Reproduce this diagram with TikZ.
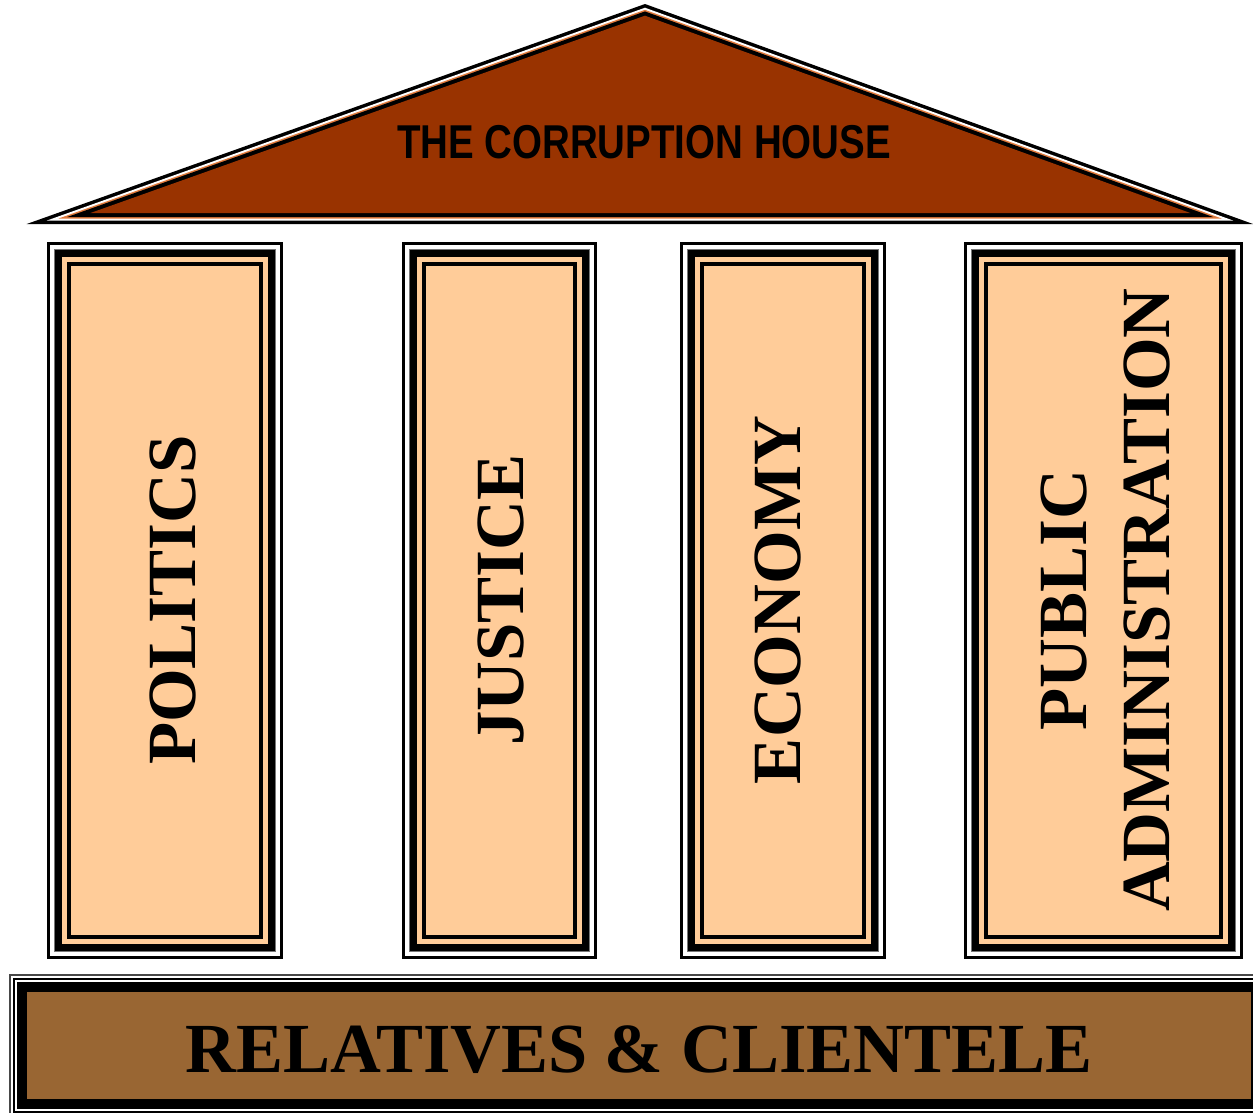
\documentclass[tikz,border=0pt]{standalone}
\usepackage{fontspec}
\setmainfont{Liberation Serif}
\newfontfamily\titlefont{Liberation Sans}
\usetikzlibrary{calc}
\definecolor{roof}{HTML}{993300}
\definecolor{peach}{HTML}{FFCC99}
\definecolor{found}{HTML}{996633}
\definecolor{roofline}{HTML}{E07A3C}
\definecolor{hair}{HTML}{777777}
\newcommand\pillarframe[2]{%
  \fill[black] (#1) rectangle (#2);
  \fill[white] ($(#1)+(3,3)$) rectangle ($(#2)-(3,3)$);
  \fill[hair] ($(#1)+(7,7)$) rectangle ($(#2)-(7,7)$);
  \fill[black] ($(#1)+(8,8)$) rectangle ($(#2)-(8,8)$);
  \fill[peach] ($(#1)+(15,15)$) rectangle ($(#2)-(15,15)$);
  \fill[black] ($(#1)+(20,20)$) rectangle ($(#2)-(20,20)$);
  \fill[peach] ($(#1)+(24,24)$) rectangle ($(#2)-(24,24)$);
}
\newcommand\roofband[2]{%
  \pgfmathsetmacro\kk{1-#1/106.67}
  \fill[#2] ($(I)!\kk!(A)$) -- ($(I)!\kk!(B)$) -- ($(I)!\kk!(C)$) -- cycle;
}
\tikzset{
  pillartext/.style={font=\bfseries\fontsize{69}{83}\selectfont, rotate=90, anchor=base, align=center, inner sep=0pt},
}
\begin{document}
\begin{tikzpicture}[x=1pt,y=-1pt]
\useasboundingbox (0,0) rectangle (1253,1112);
\clip (0,0) rectangle (1253,1112);
% roof
\coordinate (A) at (26.7,224);
\coordinate (B) at (645,4);
\coordinate (C) at (1253,224);
\coordinate (I) at (644.70,117.33);
\roofband{0}{black}
\roofband{3.5}{white}
\roofband{5.5}{roofline}
\roofband{7}{black}
\roofband{11}{roof}
\node[font=\titlefont\bfseries\fontsize{47.5}{50}\selectfont, xscale=0.81, anchor=base, inner sep=0pt] (title) at (644,158) {THE CORRUPTION HOUSE};
% pillars
\coordinate (p1a) at (47,242);  \coordinate (p1b) at (283,959);
\coordinate (p2a) at (402,242); \coordinate (p2b) at (597,959);
\coordinate (p3a) at (680,242); \coordinate (p3b) at (886,959);
\coordinate (p4a) at (964,242); \coordinate (p4b) at (1243,959);
\pillarframe{p1a}{p1b}
\pillarframe{p2a}{p2b}
\pillarframe{p3a}{p3b}
\pillarframe{p4a}{p4b}
\node[pillartext] (politics) at (195,600) {POLITICS};
\node[pillartext] (justice) at (523,600) {JUSTICE};
\node[pillartext] (economy) at (800,600) {ECONOMY};
\node[pillartext] (pubadm) at (1169,600) {PUBLIC\\ADMINISTRATION};
% foundation
\coordinate (fa) at (9,974);
\coordinate (fb) at (1268.5,1116.5);
\fill[hair!60!black] (fa) rectangle (fb);
\fill[white] ($(fa)+(1.5,1.5)$) rectangle ($(fb)-(1.5,1.5)$);
\fill[black] ($(fa)+(3.5,3.5)$) rectangle ($(fb)-(3.5,3.5)$);
\fill[white] ($(fa)+(5.5,5.5)$) rectangle ($(fb)-(5.5,5.5)$);
\fill[black] ($(fa)+(7.5,7.5)$) rectangle ($(fb)-(7.5,7.5)$);
\fill[found] ($(fa)+(17.5,17.5)$) rectangle ($(fb)-(17.5,17.5)$);
\node[font=\bfseries\fontsize{70.4}{80}\selectfont, anchor=base, inner sep=0pt] (foundation) at (639,1072) {RELATIVES \& CLIENTELE};
\end{tikzpicture}
\end{document}
